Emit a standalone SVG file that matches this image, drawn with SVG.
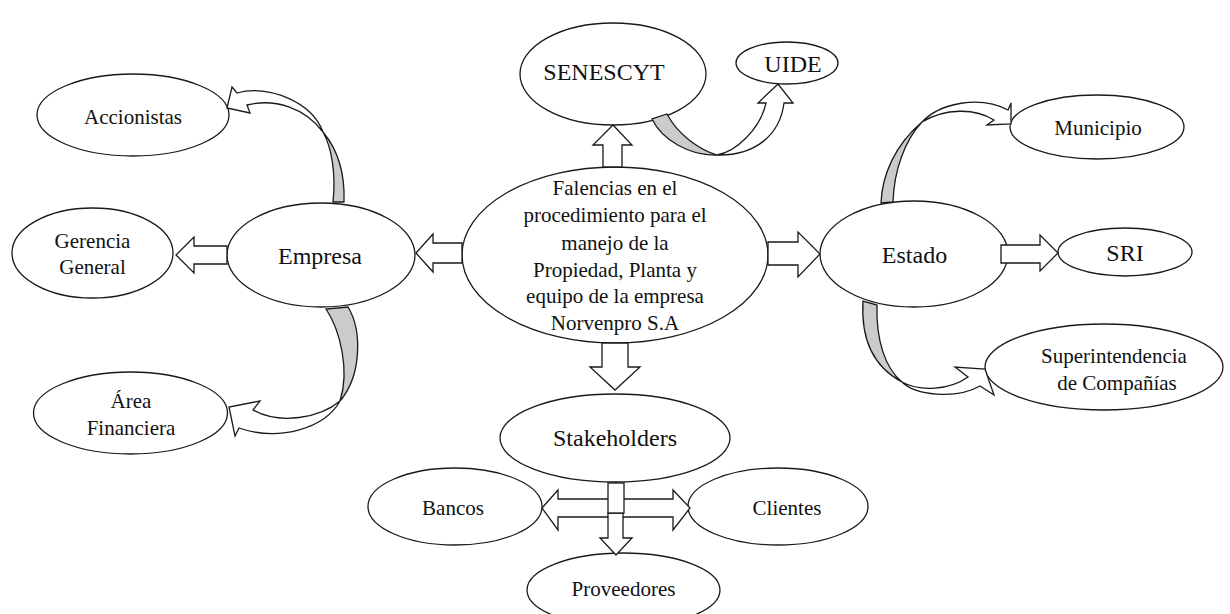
<svg xmlns="http://www.w3.org/2000/svg" width="1230" height="614" viewBox="0 0 1230 614">
<style>
.n ellipse{fill:#fff;stroke:#1a1a1a;stroke-width:1.3}
.a{fill:#fff;stroke:#1a1a1a;stroke-width:1.3;stroke-linejoin:miter}
.g{fill:#cbcbcb;stroke:#1a1a1a;stroke-width:1.3}
text{font-family:'Liberation Serif','Times New Roman',Tinos,serif;fill:#111;text-anchor:middle}
.b{font-size:24px}
.s{font-size:21px}
</style>
<rect width="1230" height="614" fill="#fff"/>
<g font-family="Liberation Serif, Times New Roman, serif">
<g id="n-central" class="n"><ellipse cx="615" cy="255" rx="153" ry="88"/>
<text class="s"><tspan x="615" y="195">Falencias en el</tspan><tspan x="615" y="222">procedimiento para el</tspan><tspan x="615" y="250">manejo de la</tspan><tspan x="615" y="277">Propiedad, Planta y</tspan><tspan x="615" y="303">equipo de la empresa</tspan><tspan x="615" y="330">Norvenpro S.A</tspan></text></g>
<g id="n-senescyt" class="n"><ellipse cx="613" cy="74" rx="93" ry="51"/><text class="b" x="604" y="80">SENESCYT</text></g>
<g id="n-uide" class="n"><ellipse cx="787" cy="63" rx="51" ry="21"/><text class="b" x="793" y="72">UIDE</text></g>
<g id="n-empresa" class="n"><ellipse cx="321" cy="255" rx="94" ry="52"/><text class="b" x="320" y="264">Empresa</text></g>
<g id="n-accionistas" class="n"><ellipse cx="133" cy="115" rx="96" ry="41"/><text class="s" x="133" y="124">Accionistas</text></g>
<g id="n-gerencia" class="n"><ellipse cx="92.5" cy="253" rx="80.5" ry="45"/><text class="s"><tspan x="92.5" y="248">Gerencia</tspan><tspan x="92.5" y="274">General</tspan></text></g>
<g id="n-area" class="n"><ellipse cx="130.5" cy="413" rx="97" ry="41"/><text class="s"><tspan x="131" y="408">Área</tspan><tspan x="131" y="435">Financiera</tspan></text></g>
<g id="n-estado" class="n"><ellipse cx="914" cy="254" rx="94" ry="53"/><text class="b" x="914.5" y="263">Estado</text></g>
<g id="n-sri" class="n"><ellipse cx="1125" cy="252" rx="67" ry="24"/><text class="b" x="1125" y="261">SRI</text></g>
<g id="n-municipio" class="n"><ellipse cx="1097" cy="127" rx="87" ry="32"/><text class="s" x="1098" y="135">Municipio</text></g>
<g id="n-super" class="n"><ellipse cx="1104" cy="367" rx="119" ry="43"/><text class="s"><tspan x="1114" y="363">Superintendencia</tspan><tspan x="1117" y="390">de Compañías</tspan></text></g>
<g id="n-stakeholders" class="n"><ellipse cx="615" cy="438" rx="115" ry="44"/><text class="b" x="615" y="446">Stakeholders</text></g>
<g id="n-bancos" class="n"><ellipse cx="455" cy="506.5" rx="87" ry="38.5"/><text class="s" x="453" y="515">Bancos</text></g>
<g id="n-clientes" class="n"><ellipse cx="778" cy="506.5" rx="90" ry="38.5"/><text class="s" x="787" y="515">Clientes</text></g>
<g id="n-proveedores" class="n"><ellipse cx="623.5" cy="590" rx="96.5" ry="37"/><text class="s" x="623.5" y="596">Proveedores</text></g>
</g>
<g id="connectors">
<polygon class="a" points="462,243 433,243 433,234 416,253 433,272 433,263 462,263"/>
<polygon class="a" points="768,242 798,242 798,232 820,254 798,277 798,265 768,265"/>
<polygon class="a" points="227,246 194,246 194,237 176,255 194,273 194,264 227,264"/>
<polygon class="a" points="1001,245 1040,245 1040,235 1058,253 1040,271 1040,263 1001,263"/>
<polygon class="a" points="603,167 603,145 593,145 613,125 632,145 622,145 622,167"/>
<polygon class="a" points="602,343 602,367 590,367 615,390 640,367 628,367 628,343"/>
<polygon class="a" points="542,508 558,490 558,499 673,499 673,490 690,508 673,530 673,517 558,517 558,530"/>
<polygon class="a" points="608,513 608,538 600,538 616,555 632,538 623,538 623,513"/>
<rect class="a" x="608" y="483" width="16" height="30"/>
<path class="g" d="M333,202 C336,175 332,148 323,132 C338,150 345,175 344,202 Z"/>
<path class="a" d="M323,132 C312,102 268,84 237,93 L232,87 L227,108 L250,113 L247,105 C275,98 305,108 323,132 Z"/>
<path class="g" d="M326,309 C340,330 350,370 340,401 C362,375 362,330 348,307 Z"/>
<path class="a" d="M340,401 C325,428 280,442 239,428 L235,436 L229,407 L260,401 L253,410 C280,425 320,418 340,401 Z"/>
<path class="g" d="M652,119 C662,140 690,156 717,155 C700,150 678,135 667,114 Z"/>
<path class="a" d="M717,155 C735,152 760,130 766,103 L758,103 L778,84 L793,103 L784,103 C780,135 755,156 717,155 Z"/>
<path class="g" d="M881,203 C882,175 895,145 922,122 C905,140 894,170 893,202 Z"/>
<path class="a" d="M922,122 C940,103 980,95 1008,110 L1011,103 L1011,124 L987,125 L994,120 C975,108 945,108 922,122 Z"/>
<path class="g" d="M863,301 C861,335 870,365 902,382 C885,368 876,340 877,305 Z"/>
<path class="a" d="M902,382 C915,395 955,400 980,386 L994,395 L985,369 L955,367 L968,377 C950,390 920,392 902,382 Z"/>
</g>
</svg>
